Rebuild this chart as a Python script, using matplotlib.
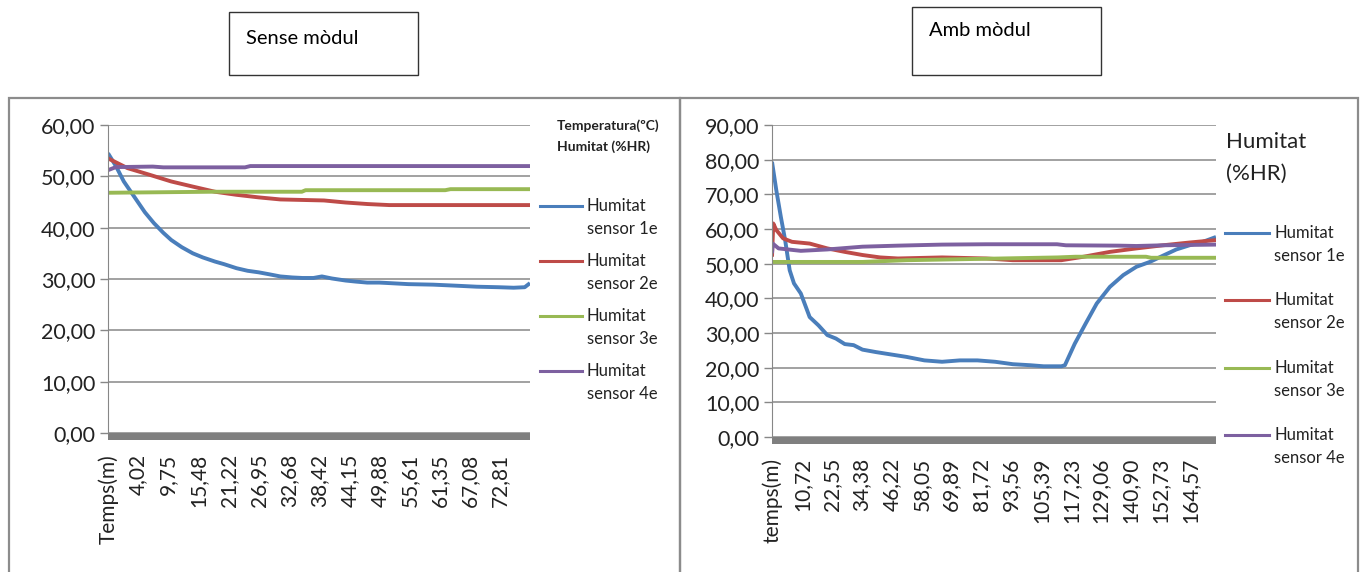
import matplotlib
matplotlib.use("Agg")
import matplotlib.pyplot as plt
from matplotlib.lines import Line2D
from matplotlib.patches import Rectangle

plt.rcParams["font.family"] = ["Lato", "DejaVu Sans"]

W, H = 1368, 572

# ---- data ----
SERIES = ["Humitat\nsensor 1e", "Humitat\nsensor 2e", "Humitat\nsensor 3e", "Humitat\nsensor 4e"]
COLORS = ["#4a7ebb", "#be4b48", "#98b954", "#7d60a0"]

# left panel: "Sense mòdul" (minutes from first sample)
left_ticklabels = ["Temps(m)", "4,02", "9,75", "15,48", "21,22", "26,95", "32,68",
                   "38,42", "44,15", "49,88", "55,61", "61,35", "67,08", "72,81"]
left_step = 5.73
left_end = 80.1

l1_t = [0, 1.5, 3, 5.4, 7, 8.7, 10.5, 12, 14, 16.1, 18, 20.3, 22, 24.4, 26.5, 28.6, 30.7,
        32.7, 35, 36.9, 39, 40.6, 42.5, 45.1, 47, 49.2, 51.5, 53.4, 57, 61.7, 66, 70,
        74.1, 77, 79.1, 80.1]
l1_v = [54.5, 52, 49, 45.4, 43, 40.9, 39, 37.6, 36.2, 35, 34.2, 33.4, 32.9, 32.1, 31.6,
        31.3, 30.9, 30.5, 30.3, 30.2, 30.2, 30.5, 30.1, 29.7, 29.5, 29.3, 29.3, 29.2,
        29.0, 28.9, 28.7, 28.5, 28.4, 28.3, 28.4, 29.2]
l2_t = [0, 3.7, 7.9, 12, 16.1, 20.3, 24.4, 28.6, 32.7, 36.8, 41, 45.1, 49.3, 53.4, 61.7, 80.1]
l2_v = [53.5, 51.6, 50.3, 49, 48, 47, 46.4, 45.9, 45.5, 45.4, 45.3, 44.9, 44.6, 44.4, 44.4, 44.4]
l3_t = [0, 10, 20, 36.8, 37.5, 64, 65, 80.1]
l3_v = [46.8, 46.9, 47.0, 47.0, 47.3, 47.3, 47.5, 47.5]
l4_t = [0, 1.5, 8.5, 10.5, 26, 27, 80.1]
l4_v = [51.2, 51.8, 51.9, 51.75, 51.75, 52.0, 52.0]

# right panel: "Amb mòdul"
right_ticklabels = ["temps(m)", "10,72", "22,55", "34,38", "46,22", "58,05", "69,89",
                    "81,72", "93,56", "105,39", "117,23", "129,06", "140,90", "152,73",
                    "164,57"]
right_step = 11.83
right_end = 175.7

r1_t = [0, 1.7, 3.5, 5.2, 7, 8.7, 11.4, 14.9, 18.4, 21.9, 25.3, 28.8, 32.3, 35.8, 41.1,
        46.3, 53.3, 60.3, 67.3, 74.3, 81.3, 88.3, 95.3, 102.3, 107.5, 114.5, 115.9, 119.8,
        124.1, 128.5, 133.7, 139, 144.2, 149.5, 154.7, 160, 165.2, 170.5, 175.7]
r1_v = [79.4, 71.2, 63.5, 56.8, 48.1, 44.3, 41.4, 34.6, 32.2, 29.4, 28.4, 26.8, 26.5,
        25.2, 24.5, 23.9, 23.1, 22.1, 21.7, 22.1, 22.1, 21.7, 21.0, 20.7, 20.4, 20.4,
        20.7, 26.9, 32.7, 38.5, 43.3, 46.7, 49.1, 50.5, 52.3, 54.1, 55.3, 56.3, 57.7]
r2_t = [0, 0.5, 1.7, 4.4, 7.9, 14.9, 21.9, 28.8, 35.8, 42.8, 49.8, 67.3, 84.8, 95.3,
        114.5, 123.3, 133.7, 144.2, 154.7, 165.2, 175.7]
r2_v = [52, 61.6, 59.7, 57.3, 56.3, 55.8, 54.4, 53.4, 52.5, 51.8, 51.5, 51.8, 51.5, 51.0,
        51.0, 52.0, 53.4, 54.4, 55.3, 56.1, 56.8]
r3_t = [0, 35.8, 53.3, 76, 113, 120, 148, 150, 175.7]
r3_v = [50.5, 50.5, 51.0, 51.3, 51.8, 52.0, 52.0, 51.7, 51.7]
r4_t = [0, 0.3, 2.6, 11.4, 21.9, 35.8, 49.8, 67.3, 84.8, 112.8, 116.3, 137.3, 144.2,
        154.7, 175.7]
r4_v = [53.0, 55.8, 54.4, 53.7, 54.1, 54.9, 55.2, 55.5, 55.6, 55.6, 55.3, 55.2, 55.1,
        55.3, 55.5]

GRID = "#878787"


def fx(x):
    return x / W


def fy(y):
    return 1 - y / H


def style_axes(ax, ymax, ticklabels, step, xend, bar_px):
    ax.set_xlim(0, xend)
    ax.set_ylim(0, ymax)
    yt = list(range(0, ymax + 1, 10))
    ax.set_yticks(yt)
    ax.set_yticklabels([f"{v:.2f}".replace(".", ",") for v in yt], fontsize=15.5, color="#222222")
    ax.set_xticks([i * step for i in range(len(ticklabels))])
    ax.set_xticklabels(ticklabels, rotation=90, fontsize=15, color="#222222")
    ax.tick_params(axis="x", length=0, pad=15)
    ax.tick_params(axis="y", length=6, width=1, color=GRID, pad=3)
    for s in ("top", "right", "bottom"):
        ax.spines[s].set_visible(False)
    ax.spines["left"].set_color(GRID)
    ax.yaxis.grid(True, color=GRID, lw=1.1)
    ax.set_axisbelow(True)
    ax.patch.set_alpha(0)
    # grey floor band under the plot
    h = bar_px / (ax.get_position().height * H)
    ax.add_patch(Rectangle((0, -h), 1, h, transform=ax.transAxes, color="#7f7f7f",
                           clip_on=False, lw=0))


fig = plt.figure(figsize=(W / 100, H / 100), dpi=100)

# panel frames
for x0, x1 in ((9, 680), (680, 1358)):
    fig.add_artist(Rectangle((fx(x0), -0.05), fx(x1) - fx(x0), fy(98) + 0.05,
                             transform=fig.transFigure, fill=False, ec="#8c8c8c", lw=1.6))

# title boxes
for (x0, y0, x1, y1), label, ty in (((229, 12, 418, 75), "Sense mòdul", 38),
                                    ((912, 7, 1101, 75), "Amb mòdul", 31)):
    fig.add_artist(Rectangle((fx(x0), fy(y1)), fx(x1) - fx(x0), fy(y0) - fy(y1),
                             transform=fig.transFigure, fill=False, ec="#333333", lw=1.0))
    fig.text(fx(x0 + 17), fy(ty), label, fontsize=14.5, va="center", ha="left")

axL = fig.add_axes([fx(108), fy(433), fx(530) - fx(108), fy(125) - fy(433)])
style_axes(axL, 60, left_ticklabels, left_step, left_end, 7)
for (t, v), c in zip([(l1_t, l1_v), (l2_t, l2_v), (l3_t, l3_v), (l4_t, l4_v)], COLORS):
    axL.plot(t, v, color=c, lw=2.8, solid_capstyle="butt")

axR = fig.add_axes([fx(772), fy(437), fx(1216) - fx(772), fy(125) - fy(437)])
style_axes(axR, 90, right_ticklabels, right_step, right_end, 7)
for (t, v), c in zip([(r1_t, r1_v), (r2_t, r2_v), (r3_t, r3_v), (r4_t, r4_v)], COLORS):
    axR.plot(t, v, color=c, lw=2.8, solid_capstyle="butt")

# legends (drawn by hand to match the spreadsheet layout)
fig.text(fx(557), fy(126), "Temperatura(ºC)", fontsize=10, fontweight="bold",
         va="center", ha="left", color="#222222")
fig.text(fx(557), fy(147), "Humitat (%HR)", fontsize=10, fontweight="bold",
         va="center", ha="left", color="#222222")
for i, (name, c) in enumerate(zip(SERIES, COLORS)):
    y = 206 + i * 55
    fig.add_artist(Line2D([fx(540), fx(582)], [fy(y), fy(y)], color=c, lw=2.2,
                          transform=fig.transFigure))
    first, second = name.split("\n")
    fig.text(fx(587), fy(y), first, fontsize=12, va="center", ha="left", color="#222222")
    fig.text(fx(587), fy(y + 23), second, fontsize=12, va="center", ha="left", color="#222222")

fig.text(fx(1226), fy(142), "Humitat", fontsize=16, va="center", ha="left", color="#222222")
fig.text(fx(1226), fy(174), "(%HR)", fontsize=16, va="center", ha="left", color="#222222")
for i, (name, c) in enumerate(zip(SERIES, COLORS)):
    y = 233 + i * 67.3
    fig.add_artist(Line2D([fx(1225), fx(1269)], [fy(y), fy(y)], color=c, lw=2.2,
                          transform=fig.transFigure))
    first, second = name.split("\n")
    fig.text(fx(1274), fy(y), first, fontsize=12, va="center", ha="left", color="#222222")
    fig.text(fx(1274), fy(y + 23), second, fontsize=12, va="center", ha="left", color="#222222")

fig.savefig("out.png", dpi=100)
